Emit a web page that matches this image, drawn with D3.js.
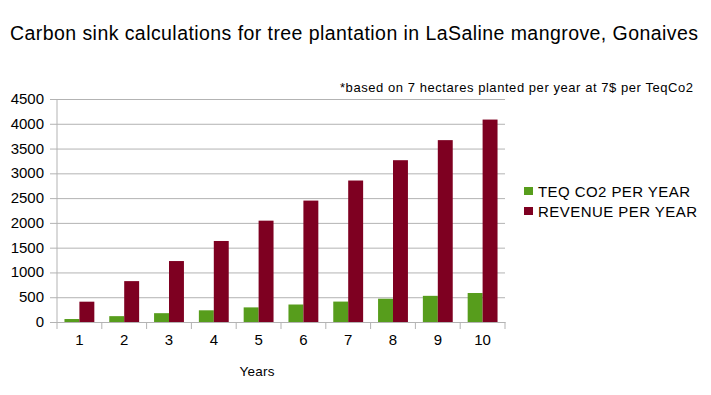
<!DOCTYPE html>
<html>
<head>
  <meta charset="utf-8">
  <script src="https://d3js.org/d3.v7.min.js"></script>
  <style>
    body { margin: 0; background: #fff; }
    svg text { font-family: "Liberation Sans", Arial, sans-serif; fill: #000; }
    .gridlines line { stroke: #b3b3b3; }
    .gridlines .domain { stroke: none; }
  </style>
</head>
<body>
  <svg id="chart" width="711" height="395"></svg>
  <script>
    // data
    const years = ['1', '2', '3', '4', '5', '6', '7', '8', '9', '10'];
    const teqCo2 = [60, 118, 178, 236, 295, 353, 412, 470, 528, 585];
    const revenue = [410, 825, 1230, 1635, 2045, 2450, 2855, 3265, 3670, 4085];
    const seriesNames = ['TEQ CO2 PER YEAR', 'REVENUE PER YEAR'];
    const seriesColors = ['#579d1c', '#7e0021'];
    const yTicks = [0, 500, 1000, 1500, 2000, 2500, 3000, 3500, 4000, 4500];

    const svg = d3.select('svg#chart');
    const margins = { top: 99, left: 57, right: 206, bottom: 73 };
    const width = +svg.attr('width');
    const height = +svg.attr('height');
    const chartWidth = width - margins.left - margins.right;
    const chartHeight = height - margins.top - margins.bottom;

    const chartArea = svg.append('g')
      .attr('transform', `translate(${margins.left},${margins.top})`);

    const xScale = d3.scaleBand().domain(years).range([0, chartWidth]).padding(0);
    const bw = xScale.bandwidth();
    const seriesScale = d3.scaleBand().domain(seriesNames).range([bw / 6, bw * 5 / 6]);
    const yScale = d3.scaleLinear().domain([0, 4500]).range([chartHeight, 0]);

    // gridlines (with the little tick stubs on the left)
    const leftGrid = d3.axisLeft(yScale).tickValues(yTicks).tickFormat('')
      .tickSize(-chartWidth - 7);
    chartArea.append('g')
      .attr('class', 'gridlines')
      .attr('transform', 'translate(-7,0)')
      .call(leftGrid);

    // y axis line + labels
    chartArea.append('line')
      .attr('x1', 0).attr('x2', 0).attr('y1', 0).attr('y2', chartHeight)
      .attr('stroke', '#b3b3b3');
    chartArea.selectAll('text.ylab')
      .data(yTicks)
      .join('text')
      .attr('class', 'ylab')
      .attr('x', -13)
      .attr('y', d => yScale(d) + 5)
      .attr('text-anchor', 'end')
      .attr('font-size', 15)
      .text(d => d);

    // bars
    const rows = years.map((y, i) => ({ year: y, values: [teqCo2[i], revenue[i]] }));
    const groups = chartArea.selectAll('g.year')
      .data(rows)
      .join('g')
      .attr('class', 'year')
      .attr('transform', d => `translate(${xScale(d.year)},0)`);
    groups.selectAll('rect')
      .data(d => d.values.map((v, j) => ({ name: seriesNames[j], value: v, color: seriesColors[j] })))
      .join('rect')
      .attr('x', d => seriesScale(d.name))
      .attr('width', seriesScale.bandwidth())
      .attr('y', d => yScale(d.value))
      .attr('height', d => chartHeight - yScale(d.value))
      .attr('fill', d => d.color);

    // x axis
    const bottomAxis = d3.axisBottom(xScale).tickSize(0).tickPadding(12);
    const xAxisG = chartArea.append('g')
      .attr('transform', `translate(0,${chartHeight})`)
      .call(bottomAxis);
    xAxisG.select('.domain').attr('stroke', '#b3b3b3');
    xAxisG.selectAll('text').attr('font-size', 15).attr('font-family', '"Liberation Sans", Arial, sans-serif');
    // tick marks at band edges
    const edges = years.map(y => xScale(y)).concat([chartWidth]);
    chartArea.selectAll('line.xtick')
      .data(edges)
      .join('line')
      .attr('class', 'xtick')
      .attr('x1', d => d).attr('x2', d => d)
      .attr('y1', chartHeight).attr('y2', chartHeight + 7)
      .attr('stroke', '#b3b3b3');

    // axis title
    svg.append('text')
      .attr('x', 257)
      .attr('y', 376)
      .attr('text-anchor', 'middle')
      .attr('font-size', 13.5)
      .attr('textLength', 35)
      .text('Years');

    // titles
    svg.append('text')
      .attr('x', 10)
      .attr('y', 40)
      .attr('font-size', 19.5)
      .attr('textLength', 688)
      .text('Carbon sink calculations for tree plantation in LaSaline mangrove, Gonaives');
    svg.append('text')
      .attr('x', 340)
      .attr('y', 92)
      .attr('font-size', 13)
      .attr('textLength', 353)
      .text('*based on 7 hectares planted per year at 7$ per TeqCo2');

    // legend
    const legendLengths = [152, 159];
    const legend = svg.append('g').attr('transform', 'translate(524,187)');
    seriesNames.forEach((name, i) => {
      legend.append('rect')
        .attr('x', 0).attr('y', i * 20)
        .attr('width', 9).attr('height', 8)
        .attr('fill', seriesColors[i]);
      legend.append('text')
        .attr('x', 14).attr('y', i * 20 + 10)
        .attr('font-size', 15)
        .attr('textLength', legendLengths[i])
        .text(name);
    });
  </script>
</body>
</html>
